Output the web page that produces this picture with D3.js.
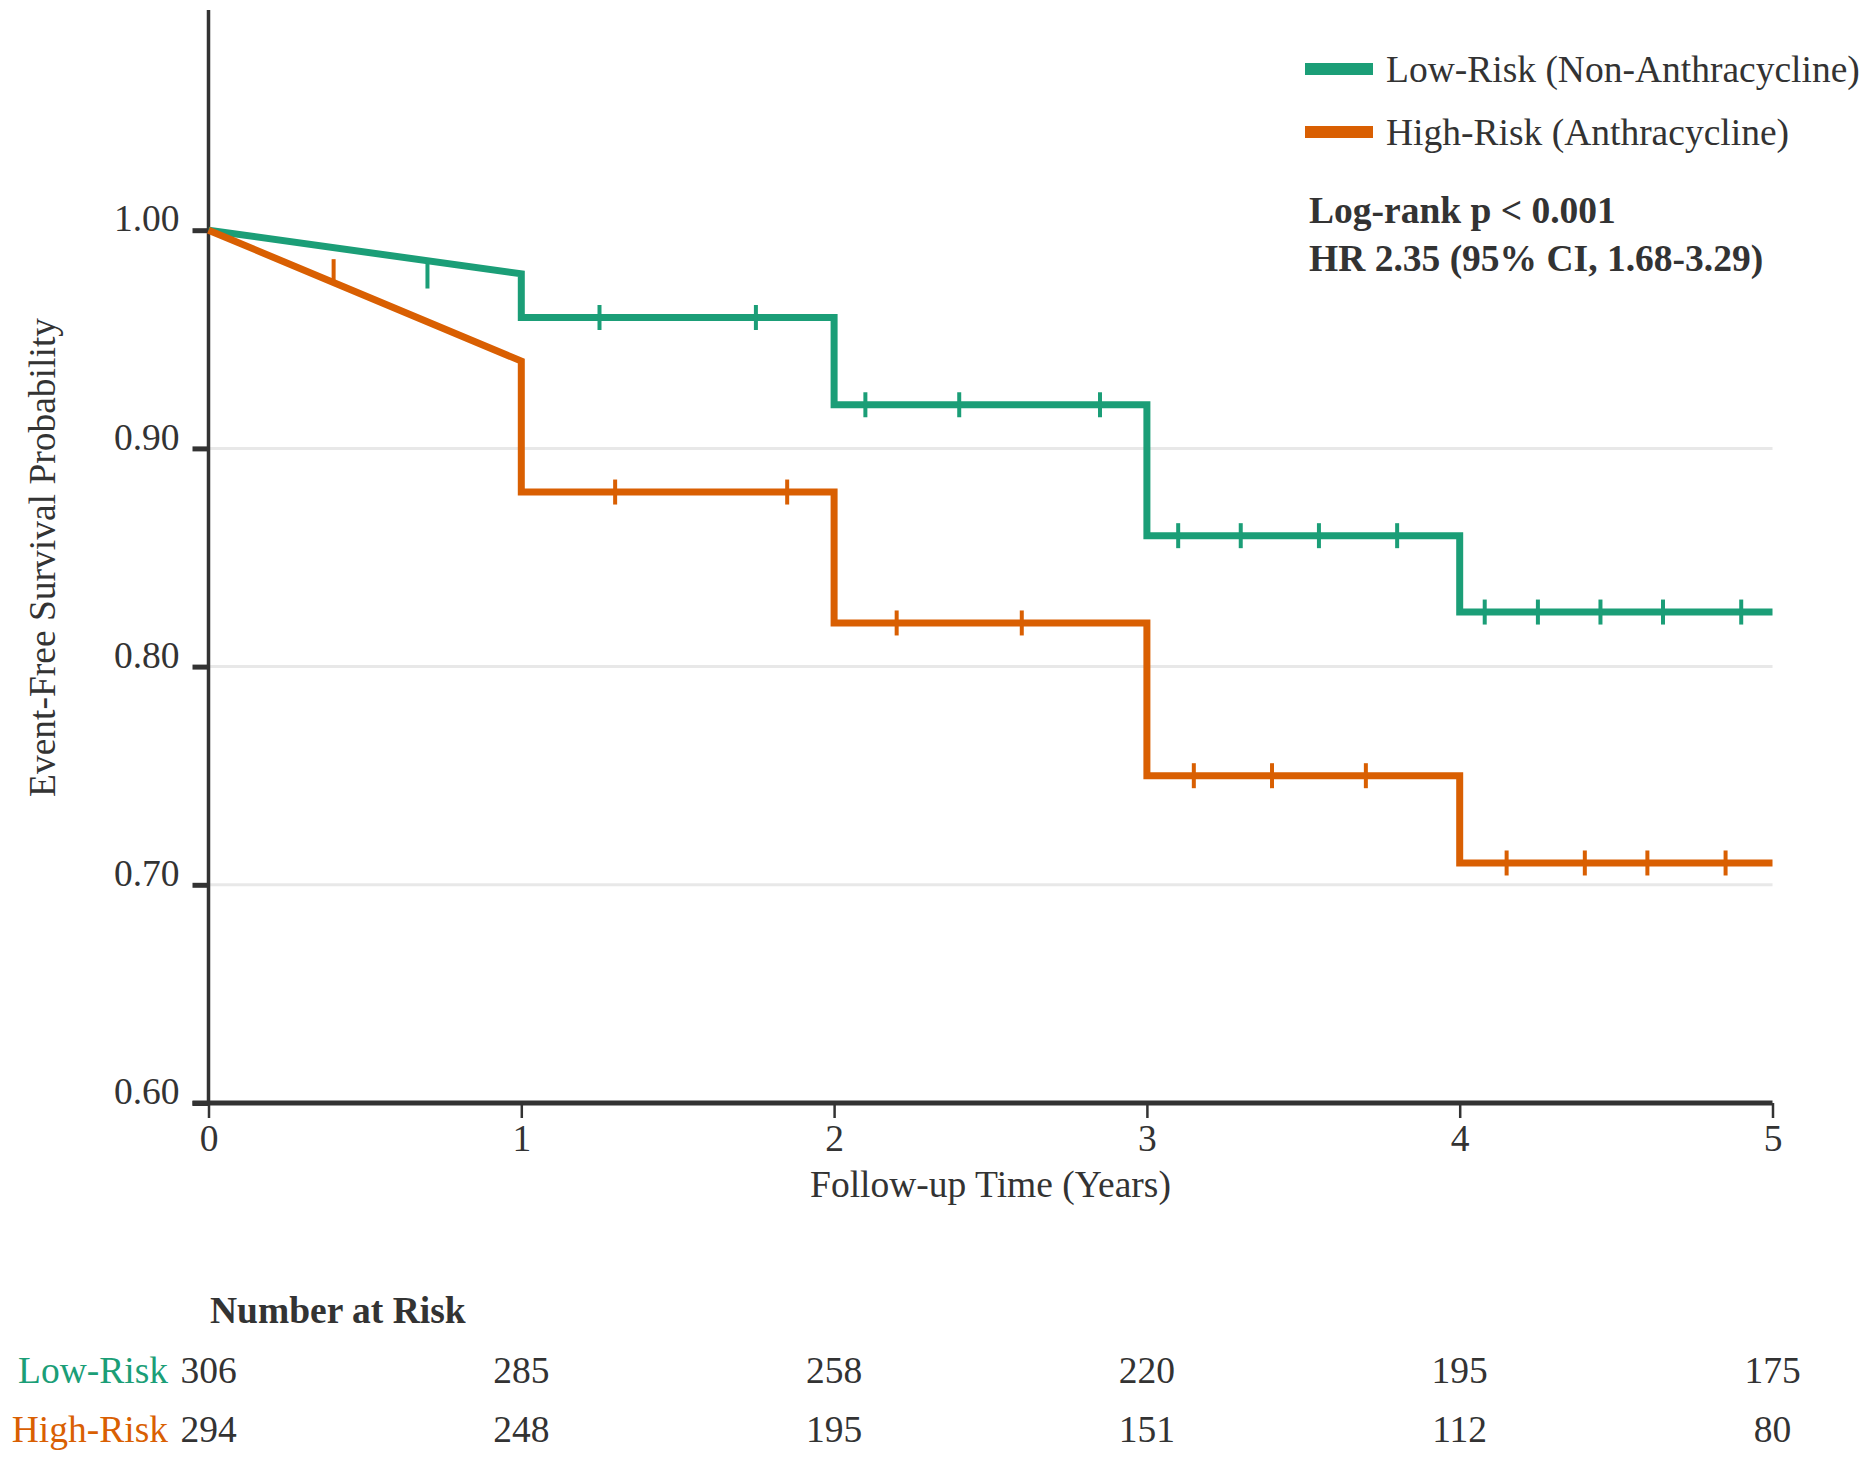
<!DOCTYPE html>
<html>
<head>
<meta charset="utf-8">
<script src="https://cdn.jsdelivr.net/npm/d3@7"></script>
<style>
  body { margin: 0; background: #fff; }
  svg text { font-family: "Liberation Serif", "Times New Roman", serif; fill: #333; }
  .axis path, .axis line { stroke: #333; }
</style>
</head>
<body>
<div class="chart-container"></div>
<script>
// step curves (time in years, survival probability)
var lowTimes  = [0, 1, 1, 2, 2, 3, 3, 4, 4, 5]
var lowSurv   = [1.00, 0.98, 0.96, 0.96, 0.92, 0.92, 0.86, 0.86, 0.825, 0.825]
var highTimes = [0, 1, 1, 2, 2, 3, 3, 4, 4, 5]
var highSurv  = [1.00, 0.94, 0.88, 0.88, 0.82, 0.82, 0.75, 0.75, 0.71, 0.71]

// censor marks
var lowCensorT  = [0.7, 1.25, 1.75, 2.1, 2.4, 2.85, 3.1, 3.3, 3.55, 3.8, 4.08, 4.25, 4.45, 4.65, 4.9]
var lowCensorS  = [0.979, 0.96, 0.96, 0.92, 0.92, 0.92, 0.86, 0.86, 0.86, 0.86, 0.825, 0.825, 0.825, 0.825, 0.825]
var highCensorT = [0.4, 1.3, 1.85, 2.2, 2.6, 3.15, 3.4, 3.7, 4.15, 4.4, 4.6, 4.85]
var highCensorS = [0.981, 0.88, 0.88, 0.82, 0.82, 0.75, 0.75, 0.75, 0.71, 0.71, 0.71, 0.71]

// number at risk
var riskYears = [0, 1, 2, 3, 4, 5]
var lowRisk   = [306, 285, 258, 220, 195, 175]
var highRisk  = [294, 248, 195, 151, 112, 80]

var yTicks = [0.60, 0.70, 0.80, 0.90, 1.00]
var gridTicks = [0.70, 0.80, 0.90]
var xTicks = [0, 1, 2, 3, 4, 5]

var groups = ["Low-Risk (Non-Anthracycline)", "High-Risk (Anthracycline)"]
var rowLabels = ["Low-Risk", "High-Risk"]
var colors = ["#1b9e77", "#d95f02"]

var width = 1868, height = 1460
var fs = 37.5
var x_scale = d3.scaleLinear().domain([0, 5]).range([208.5, 1772.5])
var y_scale = d3.scaleLinear().domain([0.6, 1.1]).range([1103, 12])

var svg = d3.select('.chart-container')
    .append('svg')
    .attr('width', width)
    .attr('height', height)

// gridlines
svg.append('g')
    .selectAll('line')
    .data(gridTicks)
    .enter()
    .append('line')
    .attr('x1', x_scale(0))
    .attr('x2', x_scale(5))
    .attr('y1', function(d){return y_scale(d)})
    .attr('y2', function(d){return y_scale(d)})
    .attr('stroke', '#e8e8e8')
    .attr('stroke-width', 3)

// y axis
var yAxis = svg.append('g')
    .attr('class', 'axis')
    .attr('transform', 'translate(' + x_scale(0) + ',0)')
    .call(d3.axisLeft(y_scale).tickValues(yTicks).tickSize(16).tickSizeOuter(0).tickPadding(13).tickFormat(d3.format('.2f')))
yAxis.select('.domain').attr('stroke-width', 3.5).attr('d', 'M0,' + (y_scale(1.1) - 2) + 'V' + y_scale(0.6))
yAxis.selectAll('.tick line').attr('stroke-width', 5)
yAxis.selectAll('.tick text').attr('font-size', fs).attr('dy', '0.02em').style('fill', '#333')

// x axis
var xAxis = svg.append('g')
    .attr('class', 'axis')
    .attr('transform', 'translate(0,' + y_scale(0.6) + ')')
    .call(d3.axisBottom(x_scale).tickValues(xTicks).tickSize(15).tickSizeOuter(0).tickFormat(d3.format('d')))
xAxis.select('.domain').attr('stroke-width', 5).attr('d', 'M' + (x_scale(0) - 16) + ',0H' + x_scale(5))
xAxis.selectAll('.tick line').attr('stroke-width', 2.5)
xAxis.selectAll('.tick text').attr('font-size', fs).attr('y', 48).attr('dy', 0).style('fill', '#333')

// axis titles
svg.append('text')
    .attr('transform', 'translate(42,' + ((y_scale(0.6) + y_scale(1.1)) / 2) + ') rotate(-90)')
    .attr('text-anchor', 'middle')
    .attr('dominant-baseline', 'central')
    .attr('font-size', fs)
    .text('Event-Free Survival Probability')

svg.append('text')
    .attr('x', (x_scale(0) + x_scale(5)) / 2)
    .attr('y', 1197)
    .attr('text-anchor', 'middle')
    .attr('font-size', fs)
    .text('Follow-up Time (Years)')

// curves
var series = [
    {times: lowTimes, surv: lowSurv, ct: lowCensorT, cs: lowCensorS},
    {times: highTimes, surv: highSurv, ct: highCensorT, cs: highCensorS}
]
var line = d3.line()
    .x(function(d){return x_scale(d[0])})
    .y(function(d){return y_scale(d[1])})

series.forEach(function(s, i){
    var pts = s.times.map(function(t, j){return [t, s.surv[j]]})
    svg.append('path')
        .datum(pts)
        .attr('d', line)
        .attr('fill', 'none')
        .attr('stroke', colors[i])
        .attr('stroke-width', 7)
        .attr('stroke-linejoin', 'miter')

    svg.append('g')
        .selectAll('line')
        .data(s.ct.map(function(t, j){return [t, s.cs[j]]}))
        .enter()
        .append('line')
        .attr('x1', function(d){return x_scale(d[0])})
        .attr('x2', function(d){return x_scale(d[0])})
        .attr('y1', function(d){return y_scale(d[1]) - 12.5})
        .attr('y2', function(d){return y_scale(d[1]) + 12.5})
        .attr('stroke', colors[i])
        .attr('stroke-width', 4)
})

// legend
var legend = svg.append('g')
    .selectAll('g')
    .data(groups)
    .enter()
    .append('g')
    .attr('transform', function(d, i){return 'translate(1305,' + (69 + i * 63) + ')'})
legend.append('line')
    .attr('x1', 0).attr('x2', 68)
    .attr('stroke', function(d, i){return colors[i]})
    .attr('stroke-width', 12)
legend.append('text')
    .attr('x', 81)
    .attr('y', 13)
    .attr('font-size', fs)
    .text(function(d){return d})

// stats
svg.append('text')
    .attr('x', 1309).attr('y', 223)
    .attr('font-size', fs).attr('font-weight', 'bold')
    .text('Log-rank p < 0.001')
svg.append('text')
    .attr('x', 1309).attr('y', 271)
    .attr('font-size', fs).attr('font-weight', 'bold')
    .text('HR 2.35 (95% CI, 1.68-3.29)')

// number at risk table
svg.append('text')
    .attr('x', 210).attr('y', 1323)
    .attr('font-size', fs).attr('font-weight', 'bold')
    .text('Number at Risk')

var riskRows = [lowRisk, highRisk]
riskRows.forEach(function(row, i){
    var yy = 1383 + i * 59
    svg.append('text')
        .attr('x', 168).attr('y', yy)
        .attr('text-anchor', 'end')
        .attr('font-size', fs)
        .style('fill', colors[i])
        .text(rowLabels[i])
    svg.append('g')
        .selectAll('text')
        .data(row)
        .enter()
        .append('text')
        .attr('x', function(d, j){return x_scale(riskYears[j])})
        .attr('y', yy)
        .attr('text-anchor', 'middle')
        .attr('font-size', fs)
        .text(function(d){return d})
})
</script>
</body>
</html>
